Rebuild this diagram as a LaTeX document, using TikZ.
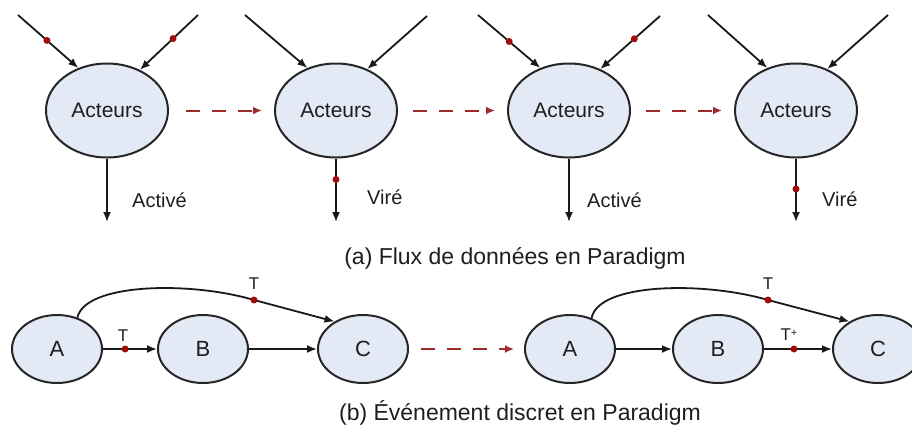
\documentclass[tikz,border=0pt]{standalone}
\usepackage{fontspec}
\setmainfont{Liberation Sans}
\usetikzlibrary{shapes.geometric,arrows.meta}
\definecolor{fillb}{HTML}{E4EAF5}
\definecolor{dotred}{HTML}{A00C0C}
\definecolor{dashred}{HTML}{9E2A2A}
\definecolor{txt}{HTML}{1E1E1E}
\tikzset{
  actor/.style={ellipse, draw=black!85, line width=2pt, fill=fillb, minimum width=122pt, minimum height=94pt, inner sep=0pt, text=txt, font=\fontsize{21}{24}\selectfont},
  abc/.style={ellipse, draw=black!85, line width=2pt, fill=fillb, minimum width=90pt, minimum height=68pt, inner sep=0pt, text=txt, font=\fontsize{22}{25}\selectfont},
  arr/.style={line width=1.8pt, draw=black!90, -{Latex[length=10pt,width=8pt]}},
  dashedarr/.style={line width=2pt, draw=dashred, dash pattern=on 14pt off 12pt, -{Latex[length=9pt,width=8pt]}},
  rdot/.style={circle, fill=dotred, inner sep=0pt, minimum size=7pt},
  lbl/.style={anchor=west, inner sep=0pt, text=txt, font=\fontsize{20}{23}\selectfont},
  tlbl/.style={inner sep=0pt, text=txt, font=\fontsize{17}{19}\selectfont},
  captxt/.style={inner sep=0pt, text=txt, font=\fontsize{23}{26}\selectfont}
}
\begin{document}
\begin{tikzpicture}[x=1pt,y=-1pt]
\useasboundingbox (0,0) rectangle (912,432);
% (a) actors
\node[actor] (a1) at (107,110.5) {Acteurs};
\node[actor] (a2) at (336,110.5) {Acteurs};
\node[actor] (a3) at (569,110.5) {Acteurs};
\node[actor] (a4) at (796,110.5) {Acteurs};
% incoming free ends
\coordinate (i1l) at (18,15);  \coordinate (i1r) at (198,15);
\coordinate (i2l) at (245,15); \coordinate (i2r) at (427,16);
\coordinate (i3l) at (478,15); \coordinate (i3r) at (660,16);
\coordinate (i4l) at (708,15); \coordinate (i4r) at (888,15);
\draw[arr] (i1l) -- node[rdot,pos=0.48]{} (a1.124);
\draw[arr] (i1r) -- node[rdot,pos=0.43]{} (a1.51);
\draw[arr] (i2l) -- (a2.124);
\draw[arr] (i2r) -- (a2.53);
\draw[arr] (i3l) -- node[rdot,pos=0.5]{} (a3.124);
\draw[arr] (i3r) -- node[rdot,pos=0.43]{} (a3.53);
\draw[arr] (i4l) -- (a4.124);
\draw[arr] (i4r) -- (a4.53);
% outgoing
\coordinate (o1) at (107,222); \coordinate (o2) at (336,222);
\coordinate (o3) at (569,222); \coordinate (o4) at (796,222);
\draw[arr] (a1.south) -- (o1);
\draw[arr] (a2.south) -- node[rdot,pos=0.33]{} (o2);
\draw[arr] (a3.south) -- (o3);
\draw[arr] (a4.south) -- node[rdot,pos=0.48]{} (o4);
\node[lbl] (l1) at (132,200) {Activé};
\node[lbl] (l2) at (367,197) {Viré};
\node[lbl] (l3) at (587,200) {Activé};
\node[lbl] (l4) at (822,199) {Viré};
% dashed transitions
\draw[dashedarr] ([xshift=17pt]a1.east) -- ([xshift=-12pt]a2.west);
\draw[dashedarr] ([xshift=15pt]a2.east) -- ([xshift=-12pt]a3.west);
\draw[dashedarr] ([xshift=15pt]a3.east) -- ([xshift=-12pt]a4.west);
\node[captxt] (capa) at (515,258) {(a) Flux de données en Paradigm};
% (b) discrete event
\node[abc] (A1) at (57,349) {A};
\node[abc] (B1) at (203,349) {B};
\node[abc] (C1) at (363,349) {C};
\node[abc] (A2) at (570,349) {A};
\node[abc] (B2) at (718,349) {B};
\node[abc] (C2) at (878,349) {C};
\coordinate (t1) at (254,300);
\coordinate (t2) at (768,300);
\draw[arr] (A1.57) .. controls (85,283) and (190,281) .. (t1) -- (C1.136);
\draw[arr] (A2.55) .. controls (598,283) and (703,281) .. (t2) -- (C2.136);
\node[rdot] (d1) at (t1) {};
\node[rdot] (d2) at (t2) {};
\node[tlbl] (tl1) at (254,284) {T};
\node[tlbl] (tl2) at (768,284) {T};
\draw[arr] (A1) -- node[rdot,pos=0.41]{} (B1);
\draw[arr] (B1) -- (C1);
\draw[arr] (A2) -- (B2);
\draw[arr] (B2) -- node[rdot,pos=0.44]{} (C2);
\node[tlbl] (tl3) at (123,336) {T};
\node[tlbl] (tl4) at (789,335) {T\raisebox{0.45ex}{\fontsize{11}{12}\selectfont +}};
\draw[dashedarr] ([xshift=12pt]C1.east) -- ([xshift=-10pt]A2.west);
\node[captxt] (capb) at (520,413) {(b) Événement discret en Paradigm};
\end{tikzpicture}
\end{document}
